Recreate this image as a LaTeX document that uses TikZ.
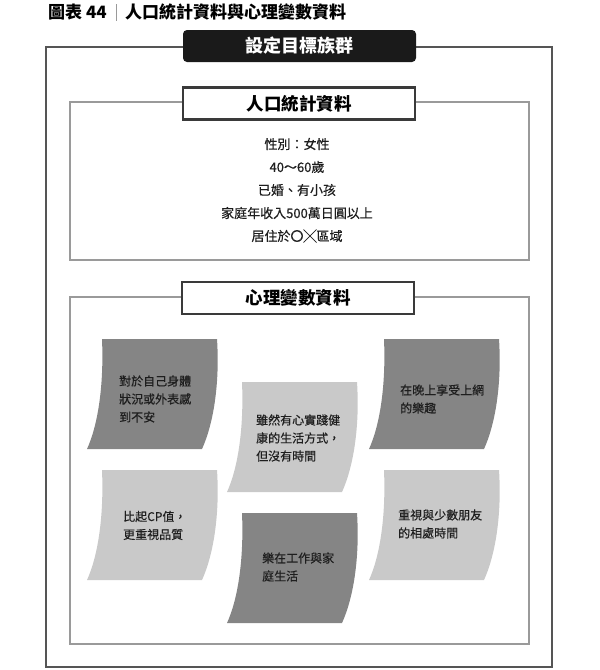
\documentclass[tikz,border=0pt]{standalone}
\usepackage{fontspec}
\setmainfont{Noto Sans CJK TC}
\newfontfamily\medfont{Noto Sans CJK TC}[FakeBold=0.5]
\definecolor{darkbox}{HTML}{858585}
\definecolor{lightbox}{HTML}{C9C9C9}
\definecolor{txt}{HTML}{1E1E1E}
\definecolor{hdr}{HTML}{3A3A3A}
\definecolor{outerc}{HTML}{555555}
\definecolor{innerc}{HTML}{9A9A9A}
\definecolor{blackhdr}{HTML}{1A1A1A}
\newcommand\wavebox[3]{%
  \fill[#3] (#1,#2) -- ({#1+115},#2)
    .. controls ({#1+118},{#2+46}) and ({#1+111},{#2+86}) .. ({#1+100},{#2+110})
    -- ({#1-15},{#2+110})
    .. controls ({#1-4},{#2+86}) and ({#1+2},{#2+46}) .. (#1,#2) -- cycle;}
\tikzset{
  shapetext/.style={anchor=west, align=left, text=txt, inner sep=0pt,
    font=\medfont\fontsize{12}{18}\selectfont},
  demotext/.style={text=txt, inner sep=0pt, font=\medfont\fontsize{13}{13}\selectfont},
  hdrbox/.style={draw=hdr, line width=2.6pt, fill=white, minimum width=232pt,
    minimum height=32pt, inner sep=0pt, text=black,
    font=\bfseries\fontsize{17.5}{17.5}\selectfont},
  titletext/.style={anchor=west, inner sep=0pt, text=black,
    font=\bfseries\fontsize{17}{17}\selectfont},
}
\begin{document}
\begin{tikzpicture}[x=1pt,y=-1pt]
\useasboundingbox (0,0) rectangle (600,670);
% title
\node[titletext] (tnum) at (48,12) {圖表 44};
\draw[innerc, line width=0.8pt] (116,4) -- (116,21);
\node[titletext] (ttl) at (125,12) {人口統計資料與心理變數資料};
% outer box
\draw[outerc, line width=2.6pt] (46,47) rectangle (552,667);
\node[fill=blackhdr, rounded corners=4pt, minimum width=233pt, minimum height=32pt,
  inner sep=0pt, text=white, font=\bfseries\fontsize{18}{18}\selectfont]
  (target) at (299.5,46) {設定目標族群};
% demographics
\draw[innerc, line width=1.2pt] (70,102) rectangle (529,260);
\node[hdrbox] (demo) at (299,103.5) {人口統計資料};
\node[demotext] (d1) at (297,144) {性別：女性};
\node[demotext] (d2) at (297,167) {40～60歲};
\node[demotext] (d3) at (297,190) {已婚、有小孩};
\node[demotext] (d4) at (297,213) {家庭年收入500萬日圓以上};
\node[demotext] (d5) at (297,236) {居住於〇╳區域};
% psychographics
\draw[innerc, line width=1.2pt] (70,297) rectangle (529,644);
\node[hdrbox] (psy) at (298,298) {心理變數資料};
\wavebox{102}{339}{darkbox}
\wavebox{242}{382}{lightbox}
\wavebox{384}{339}{darkbox}
\wavebox{102}{470}{lightbox}
\wavebox{242}{513}{darkbox}
\wavebox{384}{470}{lightbox}
\node[shapetext] (p1) at (119,399) {對於自己身體\\狀況或外表感\\到不安};
\node[shapetext] (p2) at (256,438) {雖然有心實踐健\\康的生活方式，\\但沒有時間};
\node[shapetext] (p3) at (400,399) {在晚上享受上網\\的樂趣};
\node[shapetext] (p4) at (123,525.5) {比起CP值，\\更重視品質};
\node[shapetext] (p5) at (262,567) {樂在工作與家\\庭生活};
\node[shapetext] (p6) at (398,524) {重視與少數朋友\\的相處時間};
\end{tikzpicture}
\end{document}
